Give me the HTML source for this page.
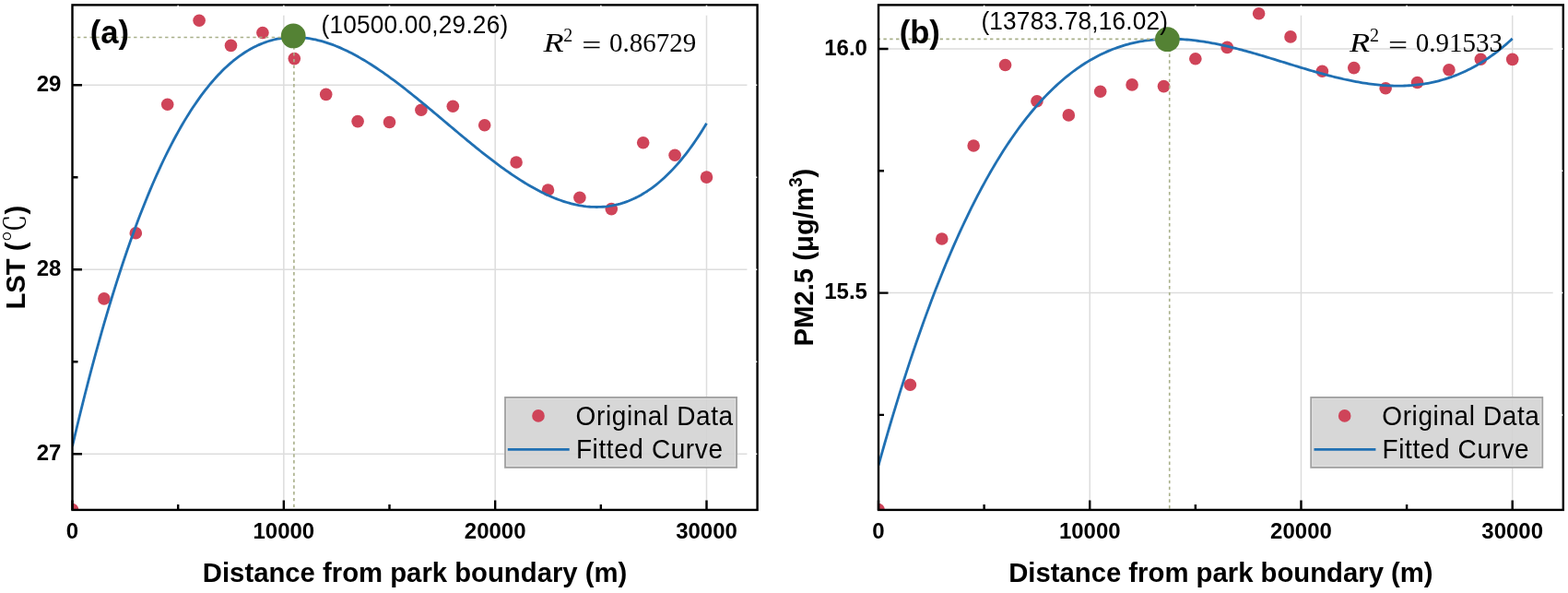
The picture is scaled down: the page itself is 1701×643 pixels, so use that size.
<!DOCTYPE html>
<html><head><meta charset="utf-8"><title>LST and PM2.5 vs distance from park boundary</title><style>
html,body{margin:0;padding:0;background:#fff;}
svg{display:block;}
.tk{font-family:"Liberation Sans",Arial,sans-serif;font-weight:bold;font-size:24px;fill:#000;}
.ttl{font-family:"Liberation Sans",Arial,sans-serif;font-weight:bold;font-size:29.3px;fill:#000;}
.tag{font-family:"Liberation Sans",Arial,sans-serif;font-weight:bold;font-size:34.6px;fill:#000;}
.ann{font-family:"Liberation Sans",Arial,sans-serif;font-size:26.2px;letter-spacing:0.2px;fill:#000;}
.r2{font-family:"Liberation Serif","DejaVu Serif",serif;font-size:29px;fill:#000;}
.r2s{font-family:"Liberation Serif","DejaVu Serif",serif;font-size:20px;fill:#000;}
.lg{font-family:"Liberation Sans",Arial,sans-serif;font-size:28px;letter-spacing:0.6px;fill:#000;}
</style></head><body>
<svg width="1701" height="643" viewBox="0 0 1701 643">
<rect width="1701" height="643" fill="#fff"/>
<clipPath id="ca"><rect x="78.5" y="5.4" width="743.1" height="547.5"/></clipPath><path d="M307.83 16.4V552.9M537.17 16.4V552.9M766.5 16.4V552.9M78.5 492.2H810.6M78.5 292.2H810.6M78.5 92.2H810.6" stroke="#dddddd" stroke-width="1.5" fill="none"/><g clip-path="url(#ca)"><circle cx="78.5" cy="552.6" r="6.8" fill="#cf4459"/><circle cx="112.9" cy="323.9" r="6.8" fill="#cf4459"/><circle cx="147.3" cy="252.7" r="6.8" fill="#cf4459"/><circle cx="181.7" cy="113.2" r="6.8" fill="#cf4459"/><circle cx="216.1" cy="22.2" r="6.8" fill="#cf4459"/><circle cx="250.5" cy="49.4" r="6.8" fill="#cf4459"/><circle cx="284.9" cy="35.5" r="6.8" fill="#cf4459"/><circle cx="319.3" cy="63.6" r="6.8" fill="#cf4459"/><circle cx="353.7" cy="102.4" r="6.8" fill="#cf4459"/><circle cx="388.1" cy="131.6" r="6.8" fill="#cf4459"/><circle cx="422.5" cy="132.5" r="6.8" fill="#cf4459"/><circle cx="456.9" cy="119.2" r="6.8" fill="#cf4459"/><circle cx="491.3" cy="115.3" r="6.8" fill="#cf4459"/><circle cx="525.7" cy="135.7" r="6.8" fill="#cf4459"/><circle cx="560.1" cy="176" r="6.8" fill="#cf4459"/><circle cx="594.5" cy="206" r="6.8" fill="#cf4459"/><circle cx="628.9" cy="214.3" r="6.8" fill="#cf4459"/><circle cx="663.3" cy="226.6" r="6.8" fill="#cf4459"/><circle cx="697.7" cy="154.8" r="6.8" fill="#cf4459"/><circle cx="732.1" cy="168.3" r="6.8" fill="#cf4459"/><circle cx="766.5" cy="192.1" r="6.8" fill="#cf4459"/><polyline points="78.50,483.92 80.79,474.15 83.09,464.52 85.38,455.01 87.67,445.64 89.97,436.40 92.26,427.28 94.55,418.30 96.85,409.44 99.14,400.71 101.43,392.11 103.73,383.63 106.02,375.28 108.31,367.05 110.61,358.95 112.90,350.97 115.19,343.11 117.49,335.37 119.78,327.75 122.07,320.26 124.37,312.88 126.66,305.62 128.95,298.47 131.25,291.45 133.54,284.53 135.83,277.74 138.13,271.06 140.42,264.49 142.71,258.04 145.01,251.69 147.30,245.46 149.59,239.34 151.89,233.33 154.18,227.43 156.47,221.64 158.77,215.95 161.06,210.37 163.35,204.90 165.65,199.53 167.94,194.27 170.23,189.11 172.53,184.06 174.82,179.11 177.11,174.25 179.41,169.50 181.70,164.85 183.99,160.30 186.29,155.85 188.58,151.50 190.87,147.24 193.17,143.08 195.46,139.01 197.75,135.04 200.05,131.16 202.34,127.38 204.63,123.69 206.93,120.09 209.22,116.58 211.51,113.16 213.81,109.83 216.10,106.59 218.39,103.44 220.69,100.38 222.98,97.40 225.27,94.51 227.57,91.70 229.86,88.98 232.15,86.34 234.45,83.78 236.74,81.31 239.03,78.91 241.33,76.60 243.62,74.36 245.91,72.21 248.21,70.13 250.50,68.13 252.79,66.21 255.09,64.37 257.38,62.59 259.67,60.90 261.97,59.27 264.26,57.72 266.55,56.25 268.85,54.84 271.14,53.50 273.43,52.24 275.73,51.04 278.02,49.91 280.31,48.85 282.61,47.85 284.90,46.93 287.19,46.06 289.49,45.26 291.78,44.53 294.07,43.86 296.37,43.25 298.66,42.70 300.95,42.21 303.25,41.79 305.54,41.42 307.83,41.11 310.13,40.86 312.42,40.67 314.71,40.53 317.01,40.45 319.30,40.42 321.59,40.44 323.89,40.52 326.18,40.66 328.47,40.84 330.77,41.08 333.06,41.36 335.35,41.70 337.65,42.08 339.94,42.51 342.23,42.99 344.53,43.51 346.82,44.08 349.11,44.70 351.41,45.36 353.70,46.06 355.99,46.81 358.29,47.60 360.58,48.43 362.87,49.30 365.17,50.20 367.46,51.15 369.75,52.14 372.05,53.16 374.34,54.22 376.63,55.32 378.93,56.45 381.22,57.62 383.51,58.82 385.81,60.05 388.10,61.31 390.39,62.61 392.69,63.93 394.98,65.29 397.27,66.67 399.57,68.09 401.86,69.53 404.15,71.00 406.45,72.49 408.74,74.01 411.03,75.55 413.33,77.12 415.62,78.71 417.91,80.32 420.21,81.96 422.50,83.61 424.79,85.29 427.09,86.98 429.38,88.70 431.67,90.43 433.97,92.18 436.26,93.94 438.55,95.72 440.85,97.51 443.14,99.32 445.43,101.14 447.73,102.98 450.02,104.82 452.31,106.68 454.61,108.55 456.90,110.42 459.19,112.31 461.49,114.20 463.78,116.10 466.07,118.01 468.37,119.92 470.66,121.83 472.95,123.76 475.25,125.68 477.54,127.61 479.83,129.54 482.13,131.47 484.42,133.40 486.71,135.33 489.01,137.26 491.30,139.18 493.59,141.11 495.89,143.03 498.18,144.95 500.47,146.86 502.77,148.77 505.06,150.67 507.35,152.56 509.65,154.44 511.94,156.32 514.23,158.19 516.53,160.04 518.82,161.89 521.11,163.72 523.41,165.55 525.70,167.35 527.99,169.15 530.29,170.93 532.58,172.69 534.87,174.44 537.17,176.17 539.46,177.89 541.75,179.58 544.05,181.26 546.34,182.91 548.63,184.55 550.93,186.16 553.22,187.75 555.51,189.32 557.81,190.86 560.10,192.38 562.39,193.88 564.69,195.34 566.98,196.79 569.27,198.20 571.57,199.59 573.86,200.94 576.15,202.27 578.45,203.56 580.74,204.83 583.03,206.06 585.33,207.26 587.62,208.43 589.91,209.56 592.21,210.66 594.50,211.72 596.79,212.74 599.09,213.73 601.38,214.68 603.67,215.59 605.97,216.46 608.26,217.29 610.55,218.08 612.85,218.82 615.14,219.53 617.43,220.19 619.73,220.80 622.02,221.37 624.31,221.90 626.61,222.38 628.90,222.81 631.19,223.20 633.49,223.53 635.78,223.82 638.07,224.05 640.37,224.24 642.66,224.37 644.95,224.45 647.25,224.48 649.54,224.45 651.83,224.37 654.13,224.23 656.42,224.04 658.71,223.79 661.01,223.48 663.30,223.12 665.59,222.69 667.89,222.21 670.18,221.66 672.47,221.05 674.77,220.38 677.06,219.65 679.35,218.85 681.65,217.99 683.94,217.06 686.23,216.07 688.53,215.01 690.82,213.88 693.11,212.68 695.41,211.42 697.70,210.08 699.99,208.68 702.29,207.20 704.58,205.65 706.87,204.03 709.17,202.33 711.46,200.56 713.75,198.72 716.05,196.80 718.34,194.80 720.63,192.72 722.93,190.57 725.22,188.34 727.51,186.03 729.81,183.63 732.10,181.16 734.39,178.60 736.69,175.97 738.98,173.24 741.27,170.44 743.57,167.55 745.86,164.57 748.15,161.51 750.45,158.36 752.74,155.12 755.03,151.79 757.33,148.38 759.62,144.87 761.91,141.27 764.21,137.58 766.50,133.80" fill="none" stroke="#2070b3" stroke-width="2.8" stroke-linejoin="round"/><path d="M78.5 40.5H318.9V552.9" stroke="#a9b08a" stroke-width="1.6" stroke-dasharray="3.4 3.4" stroke-dashoffset="1.4" fill="none"/></g><circle cx="318.2" cy="38.9" r="13.4" fill="#548234"/><rect x="78.5" y="5.4" width="743.1" height="547.5" fill="none" stroke="#000" stroke-width="2.4"/><path d="M78.5 552.9v-10.5M307.83 552.9v-10.5M537.17 552.9v-10.5M766.5 552.9v-10.5M193.17 552.9v-6M422.5 552.9v-6M651.83 552.9v-6M78.5 492.2h10.5M78.5 292.2h10.5M78.5 92.2h10.5M78.5 392.2h6M78.5 192.2h6" stroke="#000" stroke-width="2.4" fill="none"/><path d="M307.83 5.7V16.4M537.17 5.7V16.4M766.5 5.7V16.4M193.17 5.7V11.4M422.5 5.7V11.4M651.83 5.7V11.4M821.3 492.2H810.6M821.3 292.2H810.6M821.3 92.2H810.6M821.3 392.2H815.6M821.3 192.2H815.6" stroke="#fff" stroke-width="1.5" fill="none"/><text transform="translate(78.5 583.6) scale(1 1.035)" class="tk" text-anchor="middle">0</text><text transform="translate(307.83 583.6) scale(1 1.035)" class="tk" text-anchor="middle">10000</text><text transform="translate(537.17 583.6) scale(1 1.035)" class="tk" text-anchor="middle">20000</text><text transform="translate(766.5 583.6) scale(1 1.035)" class="tk" text-anchor="middle">30000</text><text transform="translate(66.4 498.8) scale(1 1.035)" class="tk" text-anchor="end">27</text><text transform="translate(66.4 298.8) scale(1 1.035)" class="tk" text-anchor="end">28</text><text transform="translate(66.4 98.8) scale(1 1.035)" class="tk" text-anchor="end">29</text><text transform="translate(450.05 631) scale(1 1.035)" class="ttl" text-anchor="middle">Distance from park boundary (m)</text>
<clipPath id="cb"><rect x="953" y="5.4" width="742.8" height="547.5"/></clipPath><path d="M1182.23 16.4V552.9M1411.47 16.4V552.9M1640.7 16.4V552.9M953 317.6H1684.8M953 53H1684.8" stroke="#dddddd" stroke-width="1.5" fill="none"/><g clip-path="url(#cb)"><circle cx="953" cy="552.6" r="6.8" fill="#cf4459"/><circle cx="987.38" cy="417.2" r="6.8" fill="#cf4459"/><circle cx="1021.77" cy="259" r="6.8" fill="#cf4459"/><circle cx="1056.15" cy="158" r="6.8" fill="#cf4459"/><circle cx="1090.54" cy="70.5" r="6.8" fill="#cf4459"/><circle cx="1124.92" cy="109.7" r="6.8" fill="#cf4459"/><circle cx="1159.31" cy="124.9" r="6.8" fill="#cf4459"/><circle cx="1193.69" cy="99.2" r="6.8" fill="#cf4459"/><circle cx="1228.08" cy="91.9" r="6.8" fill="#cf4459"/><circle cx="1262.47" cy="93.6" r="6.8" fill="#cf4459"/><circle cx="1296.85" cy="63.8" r="6.8" fill="#cf4459"/><circle cx="1331.24" cy="51.4" r="6.8" fill="#cf4459"/><circle cx="1365.62" cy="14.8" r="6.8" fill="#cf4459"/><circle cx="1400.01" cy="39.9" r="6.8" fill="#cf4459"/><circle cx="1434.39" cy="77.3" r="6.8" fill="#cf4459"/><circle cx="1468.78" cy="73.6" r="6.8" fill="#cf4459"/><circle cx="1503.16" cy="95.8" r="6.8" fill="#cf4459"/><circle cx="1537.55" cy="89.5" r="6.8" fill="#cf4459"/><circle cx="1571.93" cy="75.7" r="6.8" fill="#cf4459"/><circle cx="1606.32" cy="64.2" r="6.8" fill="#cf4459"/><circle cx="1640.7" cy="64.4" r="6.8" fill="#cf4459"/><polyline points="953.00,504.57 955.29,496.37 957.58,488.27 959.88,480.25 962.17,472.33 964.46,464.50 966.75,456.76 969.05,449.11 971.34,441.55 973.63,434.08 975.92,426.70 978.22,419.41 980.51,412.21 982.80,405.09 985.09,398.06 987.38,391.12 989.68,384.26 991.97,377.49 994.26,370.80 996.55,364.20 998.85,357.68 1001.14,351.24 1003.43,344.89 1005.72,338.62 1008.02,332.44 1010.31,326.33 1012.60,320.31 1014.89,314.36 1017.19,308.50 1019.48,302.72 1021.77,297.01 1024.06,291.39 1026.35,285.84 1028.65,280.37 1030.94,274.98 1033.23,269.66 1035.52,264.42 1037.82,259.26 1040.11,254.17 1042.40,249.15 1044.69,244.22 1046.99,239.35 1049.28,234.56 1051.57,229.84 1053.86,225.19 1056.15,220.62 1058.45,216.11 1060.74,211.68 1063.03,207.32 1065.32,203.03 1067.62,198.80 1069.91,194.65 1072.20,190.57 1074.49,186.55 1076.79,182.60 1079.08,178.72 1081.37,174.90 1083.66,171.15 1085.96,167.47 1088.25,163.85 1090.54,160.29 1092.83,156.80 1095.12,153.38 1097.42,150.01 1099.71,146.71 1102.00,143.47 1104.29,140.30 1106.59,137.18 1108.88,134.13 1111.17,131.13 1113.46,128.20 1115.76,125.32 1118.05,122.50 1120.34,119.74 1122.63,117.04 1124.92,114.40 1127.22,111.81 1129.51,109.28 1131.80,106.81 1134.09,104.39 1136.39,102.02 1138.68,99.71 1140.97,97.46 1143.26,95.26 1145.56,93.11 1147.85,91.01 1150.14,88.96 1152.43,86.97 1154.73,85.03 1157.02,83.14 1159.31,81.29 1161.60,79.50 1163.89,77.76 1166.19,76.06 1168.48,74.42 1170.77,72.82 1173.06,71.26 1175.36,69.76 1177.65,68.30 1179.94,66.89 1182.23,65.52 1184.53,64.19 1186.82,62.91 1189.11,61.68 1191.40,60.49 1193.69,59.34 1195.99,58.23 1198.28,57.16 1200.57,56.14 1202.86,55.15 1205.16,54.21 1207.45,53.31 1209.74,52.44 1212.03,51.62 1214.33,50.83 1216.62,50.08 1218.91,49.37 1221.20,48.69 1223.50,48.06 1225.79,47.45 1228.08,46.89 1230.37,46.35 1232.66,45.86 1234.96,45.39 1237.25,44.96 1239.54,44.57 1241.83,44.20 1244.13,43.87 1246.42,43.57 1248.71,43.30 1251.00,43.06 1253.30,42.85 1255.59,42.67 1257.88,42.52 1260.17,42.40 1262.47,42.30 1264.76,42.24 1267.05,42.20 1269.34,42.19 1271.63,42.20 1273.93,42.24 1276.22,42.31 1278.51,42.40 1280.80,42.51 1283.10,42.65 1285.39,42.81 1287.68,42.99 1289.97,43.20 1292.27,43.43 1294.56,43.68 1296.85,43.95 1299.14,44.24 1301.43,44.55 1303.73,44.88 1306.02,45.23 1308.31,45.59 1310.60,45.98 1312.90,46.38 1315.19,46.80 1317.48,47.24 1319.77,47.69 1322.07,48.16 1324.36,48.64 1326.65,49.14 1328.94,49.65 1331.24,50.18 1333.53,50.71 1335.82,51.27 1338.11,51.83 1340.40,52.40 1342.70,52.99 1344.99,53.58 1347.28,54.19 1349.57,54.81 1351.87,55.43 1354.16,56.07 1356.45,56.71 1358.74,57.36 1361.04,58.02 1363.33,58.68 1365.62,59.35 1367.91,60.03 1370.20,60.71 1372.50,61.39 1374.79,62.09 1377.08,62.78 1379.37,63.48 1381.67,64.18 1383.96,64.88 1386.25,65.59 1388.54,66.29 1390.84,67.00 1393.13,67.71 1395.42,68.42 1397.71,69.12 1400.01,69.83 1402.30,70.53 1404.59,71.24 1406.88,71.94 1409.17,72.64 1411.47,73.33 1413.76,74.02 1416.05,74.70 1418.34,75.39 1420.64,76.06 1422.93,76.73 1425.22,77.39 1427.51,78.05 1429.81,78.70 1432.10,79.34 1434.39,79.97 1436.68,80.60 1438.97,81.21 1441.27,81.82 1443.56,82.41 1445.85,83.00 1448.14,83.57 1450.44,84.13 1452.73,84.68 1455.02,85.21 1457.31,85.74 1459.61,86.25 1461.90,86.74 1464.19,87.22 1466.48,87.69 1468.78,88.14 1471.07,88.57 1473.36,88.99 1475.65,89.39 1477.94,89.77 1480.24,90.14 1482.53,90.48 1484.82,90.81 1487.11,91.12 1489.41,91.41 1491.70,91.67 1493.99,91.92 1496.28,92.15 1498.58,92.35 1500.87,92.53 1503.16,92.69 1505.45,92.82 1507.74,92.93 1510.04,93.02 1512.33,93.08 1514.62,93.12 1516.91,93.13 1519.21,93.11 1521.50,93.07 1523.79,93.00 1526.08,92.90 1528.38,92.77 1530.67,92.62 1532.96,92.44 1535.25,92.22 1537.55,91.98 1539.84,91.70 1542.13,91.40 1544.42,91.06 1546.71,90.69 1549.01,90.29 1551.30,89.86 1553.59,89.39 1555.88,88.88 1558.18,88.35 1560.47,87.77 1562.76,87.17 1565.05,86.52 1567.35,85.84 1569.64,85.13 1571.93,84.37 1574.22,83.58 1576.51,82.75 1578.81,81.88 1581.10,80.97 1583.39,80.02 1585.68,79.03 1587.98,78.00 1590.27,76.93 1592.56,75.81 1594.85,74.66 1597.15,73.46 1599.44,72.22 1601.73,70.93 1604.02,69.60 1606.32,68.22 1608.61,66.80 1610.90,65.34 1613.19,63.83 1615.48,62.27 1617.78,60.66 1620.07,59.01 1622.36,57.30 1624.65,55.55 1626.95,53.75 1629.24,51.91 1631.53,50.01 1633.82,48.06 1636.12,46.05 1638.41,44.00 1640.70,41.90" fill="none" stroke="#2070b3" stroke-width="2.8" stroke-linejoin="round"/><path d="M953 42.4H1268.7V552.9" stroke="#a9b08a" stroke-width="1.6" stroke-dasharray="3.4 3.4" stroke-dashoffset="1.4" fill="none"/></g><circle cx="1266.4" cy="42.7" r="13.4" fill="#548234"/><rect x="953" y="5.4" width="742.8" height="547.5" fill="none" stroke="#000" stroke-width="2.4"/><path d="M953 552.9v-10.5M1182.23 552.9v-10.5M1411.47 552.9v-10.5M1640.7 552.9v-10.5M1067.62 552.9v-6M1296.85 552.9v-6M1526.08 552.9v-6M953 317.6h10.5M953 53h10.5M953 449.9h6M953 185.3h6" stroke="#000" stroke-width="2.4" fill="none"/><path d="M1182.23 5.7V16.4M1411.47 5.7V16.4M1640.7 5.7V16.4M1067.62 5.7V11.4M1296.85 5.7V11.4M1526.08 5.7V11.4M1695.5 317.6H1684.8M1695.5 53H1684.8M1695.5 449.9H1689.8M1695.5 185.3H1689.8" stroke="#fff" stroke-width="1.5" fill="none"/><text transform="translate(953 583.6) scale(1 1.035)" class="tk" text-anchor="middle">0</text><text transform="translate(1182.23 583.6) scale(1 1.035)" class="tk" text-anchor="middle">10000</text><text transform="translate(1411.47 583.6) scale(1 1.035)" class="tk" text-anchor="middle">20000</text><text transform="translate(1640.7 583.6) scale(1 1.035)" class="tk" text-anchor="middle">30000</text><text transform="translate(940.9 324.2) scale(1 1.035)" class="tk" text-anchor="end">15.5</text><text transform="translate(940.9 59.6) scale(1 1.035)" class="tk" text-anchor="end">16.0</text><text transform="translate(1324.4 631) scale(1 1.035)" class="ttl" text-anchor="middle">Distance from park boundary (m)</text>
<text transform="translate(97.8 47.4) scale(1 1.0)" class="tag">(a)</text><text transform="translate(975.7 47.4) scale(1 1.0)" class="tag">(b)</text><text transform="translate(348.6 35.75) scale(1 1.035)" class="ann">(10500.00,29.26)</text><text transform="translate(1064.4 32.2) scale(1 1.035)" class="ann">(13783.78,16.02)</text><text transform="translate(589.4 55.7) scale(1.25 1)" class="r2" font-style="italic">R</text><text x="611.2" y="45.4" class="r2s">2</text><text transform="translate(631.2 58.6) scale(1.29 1.0)" class="r2">=</text><text x="661.0" y="55.7" class="r2">0.86729</text><text transform="translate(1464.1 55.7) scale(1.25 1)" class="r2" font-style="italic">R</text><text x="1485.9" y="45.4" class="r2s">2</text><text transform="translate(1505.9 58.6) scale(1.29 1.0)" class="r2">=</text><text x="1535.7" y="55.7" class="r2">0.91533</text><rect x="548.0" y="430.9" width="251.1" height="76" fill="#d3d3d3" fill-opacity="0.9" stroke="#a0a0a0" stroke-width="1.8"/><rect x="549.6" y="432.5" width="247.9" height="72.8" fill="none" stroke="#e0e0e0" stroke-width="1"/><circle cx="584.0" cy="450.9" r="6.8" fill="#cf4459"/><path d="M550.8 487.4H617.7" stroke="#2070b3" stroke-width="2.8"/><text transform="translate(624.6 460.8) scale(1 1.035)" class="lg">Original Data</text><text transform="translate(624.9 496.5) scale(1 1.035)" class="lg">Fitted Curve</text><rect x="1422.2" y="430.9" width="251.1" height="76" fill="#d3d3d3" fill-opacity="0.9" stroke="#a0a0a0" stroke-width="1.8"/><rect x="1423.8" y="432.5" width="247.9" height="72.8" fill="none" stroke="#e0e0e0" stroke-width="1"/><circle cx="1458.7" cy="450.9" r="6.8" fill="#cf4459"/><path d="M1425.5 487.4H1492.4" stroke="#2070b3" stroke-width="2.8"/><text transform="translate(1499.3 460.8) scale(1 1.035)" class="lg">Original Data</text><text transform="translate(1499.6 496.5) scale(1 1.035)" class="lg">Fitted Curve</text><text transform="translate(27.3 335.6) rotate(-90) scale(1 1.035)" class="ttl">LST (<tspan font-family="Liberation Serif, Noto Serif CJK SC, serif" font-weight="normal" font-size="30px">℃</tspan>)</text><text transform="translate(881.7 375.5) rotate(-90) scale(1 1.035)" class="ttl">PM2.5 (μg/m<tspan dy="-11" font-size="19">3</tspan><tspan dy="11">)</tspan></text>
</svg>
</body></html>
